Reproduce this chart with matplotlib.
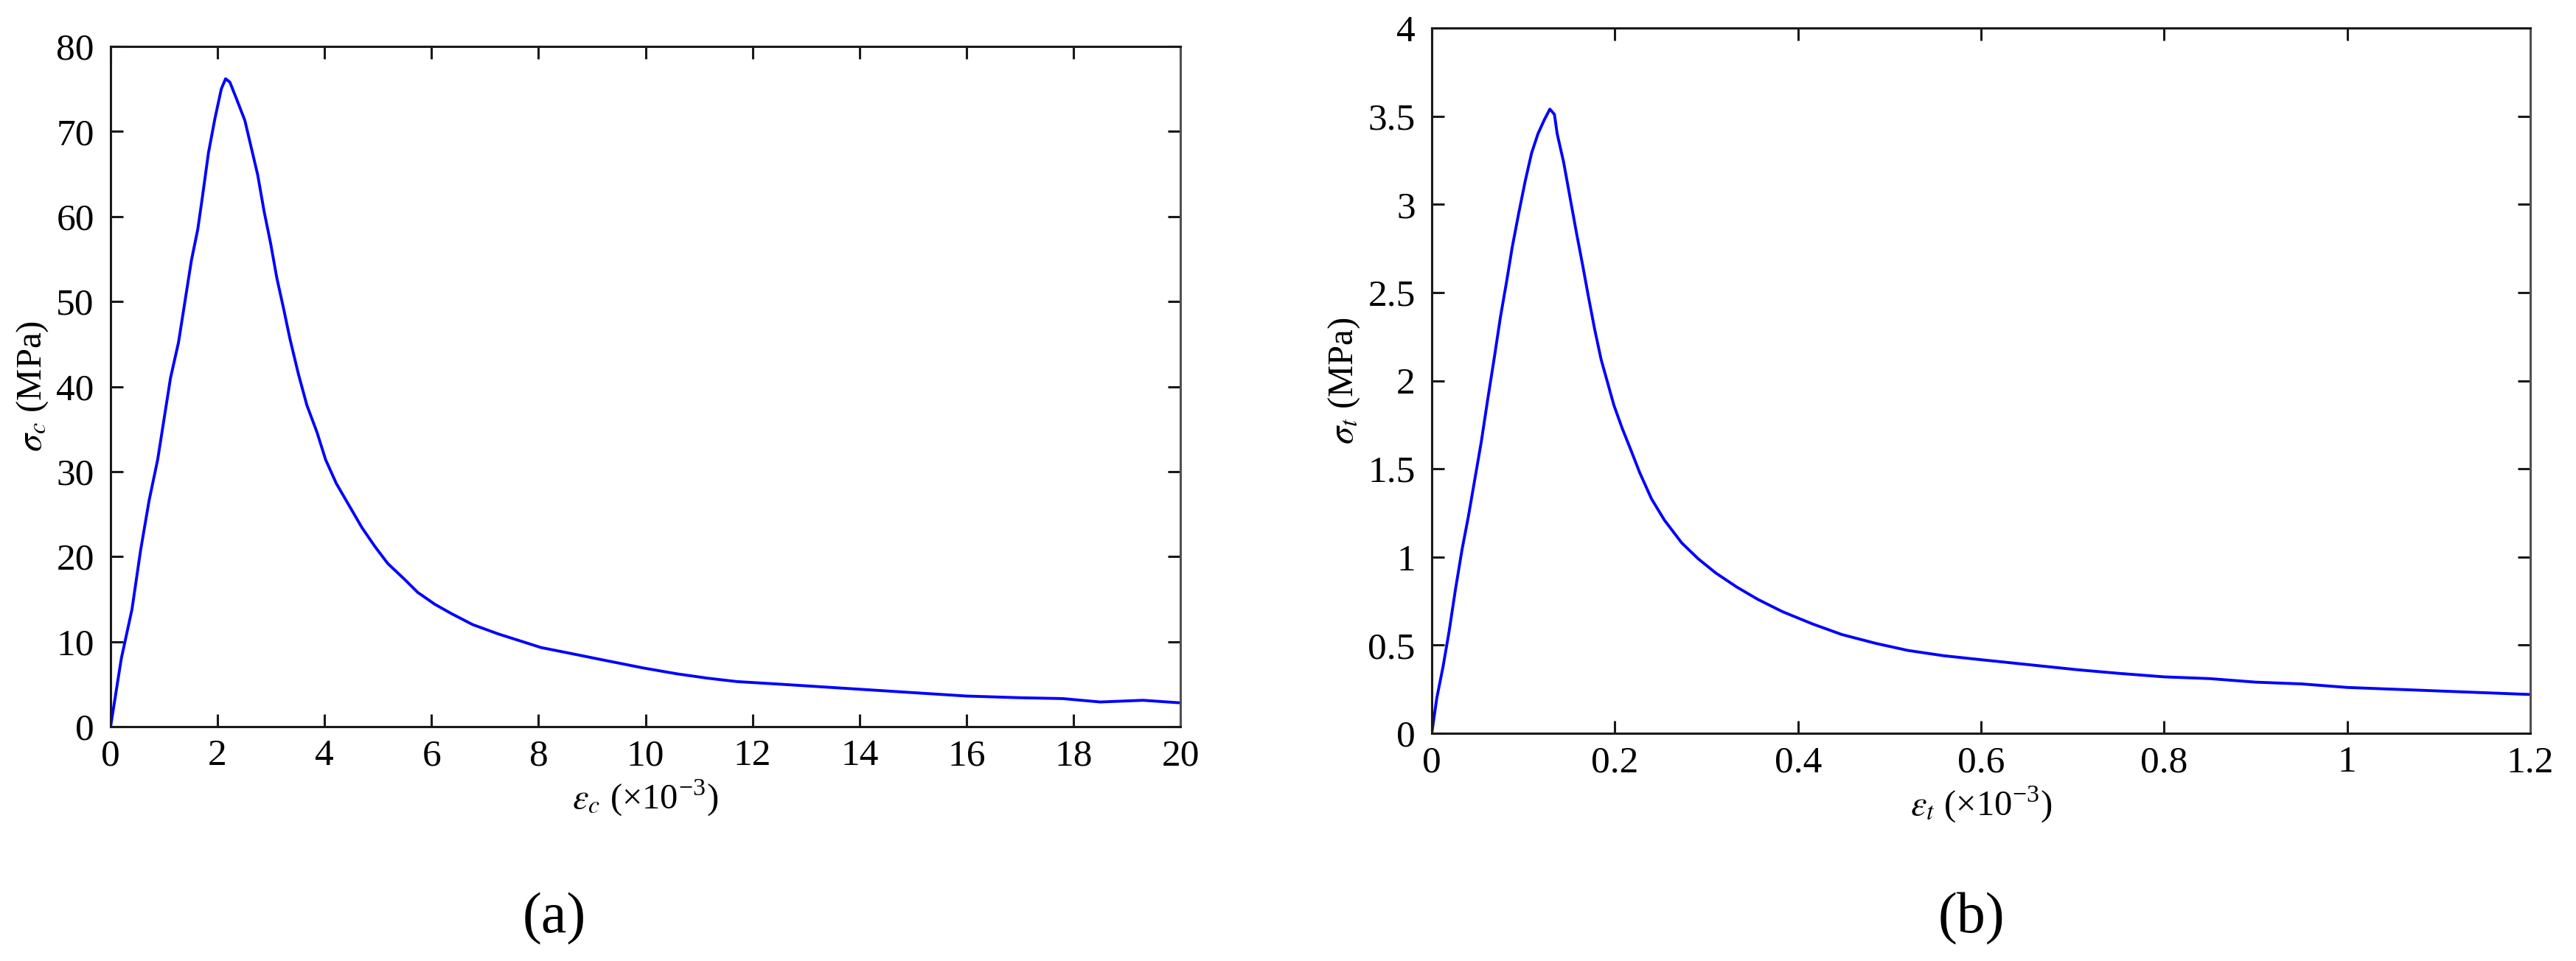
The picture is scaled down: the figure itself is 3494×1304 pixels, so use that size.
import matplotlib
matplotlib.use("Agg")
import matplotlib.pyplot as plt

plt.rcParams['font.family'] = ['Liberation Serif', 'DejaVu Serif']
plt.rcParams['mathtext.fontset'] = 'stix'

# ---- data (a): compression ----
eps_c = [0, 0.2, 0.4, 0.56, 0.72, 0.88, 1.0, 1.12, 1.27, 1.39, 1.51, 1.63, 1.71, 1.83,
         1.95, 2.07, 2.15, 2.23, 2.35, 2.51, 2.63, 2.75, 2.87, 2.99, 3.11, 3.23, 3.35,
         3.51, 3.67, 3.86, 4.02, 4.22, 4.46, 4.70, 4.94, 5.18, 5.50, 5.74, 6.06, 6.37,
         6.77, 7.25, 7.65, 8.05, 8.61, 9.16, 9.56, 9.96, 10.6, 11.16, 11.71, 12.5, 13.0,
         14.0, 15.0, 16.0, 17.0, 17.8, 18.5, 19.3, 20.0]
sig_c = [0, 8.0, 13.8, 20.7, 26.6, 31.4, 36.2, 41.0, 45.2, 50.0, 54.8, 58.5, 62.0, 67.5,
         71.5, 75.0, 76.2, 75.8, 73.9, 71.3, 68.1, 64.9, 60.6, 56.9, 52.7, 49.3, 45.7,
         41.5, 37.8, 34.6, 31.4, 28.6, 26.0, 23.4, 21.2, 19.2, 17.3, 15.8, 14.4, 13.3,
         12.0, 10.9, 10.1, 9.3, 8.6, 7.9, 7.4, 6.9, 6.2, 5.7, 5.3, 5.0, 4.8,
         4.4, 4.0, 3.6, 3.4, 3.3, 2.9, 3.1, 2.8]

# ---- data (b): tension ----
eps_t = [0, 0.0055, 0.0124, 0.019, 0.026, 0.033, 0.040, 0.047, 0.054, 0.061, 0.068, 0.075,
         0.082, 0.088, 0.095, 0.102, 0.109, 0.116, 0.123, 0.129, 0.134, 0.137, 0.144, 0.151,
         0.158, 0.165, 0.171, 0.178, 0.185, 0.192, 0.199, 0.208, 0.218, 0.227, 0.240, 0.254,
         0.273, 0.291, 0.310, 0.333, 0.356, 0.383, 0.416, 0.448, 0.485, 0.520, 0.559, 0.595,
         0.632, 0.669, 0.706, 0.75, 0.8, 0.85, 0.9, 0.95, 1.0, 1.05, 1.1, 1.15, 1.2]
sig_t = [0, 0.20, 0.38, 0.58, 0.82, 1.04, 1.23, 1.44, 1.65, 1.89, 2.12, 2.36,
         2.57, 2.76, 2.95, 3.13, 3.29, 3.40, 3.48, 3.54, 3.51, 3.40, 3.24, 3.04,
         2.84, 2.65, 2.48, 2.29, 2.12, 1.99, 1.86, 1.73, 1.60, 1.48, 1.33, 1.21,
         1.08, 0.99, 0.91, 0.83, 0.76, 0.69, 0.62, 0.56, 0.51, 0.47, 0.44, 0.42,
         0.40, 0.38, 0.36, 0.34, 0.32, 0.31, 0.29, 0.28, 0.26, 0.25, 0.24, 0.23, 0.22]

xticks_a = [0, 2, 4, 6, 8, 10, 12, 14, 16, 18, 20]
yticks_a = [0, 10, 20, 30, 40, 50, 60, 70, 80]
xticks_b = [0, 0.2, 0.4, 0.6, 0.8, 1.0, 1.2]
xticklabels_b = ['0', '0.2', '0.4', '0.6', '0.8', '1', '1.2']
yticks_b = [0, 0.5, 1, 1.5, 2, 2.5, 3, 3.5, 4]
yticklabels_b = ['0', '0.5', '1', '1.5', '2', '2.5', '3', '3.5', '4']

W, H = 3494, 1304
fig = plt.figure(figsize=(W / 100, H / 100), dpi=100)

ax1 = fig.add_axes([150 / W, 1 - 986 / H, 1451 / W, 923 / H])
ax2 = fig.add_axes([1942 / W, 1 - 995 / H, 1490 / W, 957 / H])

TICK_FS = 37
LINE_C = '#0000FF'


def style(ax):
    for side in ['left', 'bottom', 'top']:
        ax.spines[side].set_color('#1a1a1a')
        ax.spines[side].set_linewidth(2.2)
    ax.spines['right'].set_color('#505050')
    ax.spines['right'].set_linewidth(2.2)
    ax.tick_params(direction='in', top=True, right=True, length=12, width=2.2,
                   labelsize=TICK_FS, colors='#1a1a1a', labelcolor='black')
    ax.tick_params(axis='x', pad=12)
    ax.tick_params(axis='y', pad=16)


ax1.plot(eps_c, sig_c, color=LINE_C, lw=2.8)
ax1.set_xlim(0, 20)
ax1.set_ylim(0, 80)
ax1.set_xticks(xticks_a)
ax1.set_xticklabels([str(v) for v in xticks_a])
ax1.set_yticks(yticks_a)
ax1.set_yticklabels([str(v) for v in yticks_a])
style(ax1)
ax1.set_xlabel(r'$\varepsilon_c$ (×10$^{\mathregular{-3}}$)', fontsize=35, labelpad=4)
ax1.set_ylabel(r'$\sigma_c$ (MPa)', fontsize=35, labelpad=6)

ax2.plot(eps_t, sig_t, color=LINE_C, lw=2.8)
ax2.set_xlim(0, 1.2)
ax2.set_ylim(0, 4)
ax2.set_xticks(xticks_b)
ax2.set_xticklabels(xticklabels_b)
ax2.set_yticks(yticks_b)
ax2.set_yticklabels(yticklabels_b)
style(ax2)
ax2.set_xlabel(r'$\varepsilon_t$ (×10$^{\mathregular{-3}}$)', fontsize=35, labelpad=4)
ax2.set_ylabel(r'$\sigma_t$ (MPa)', fontsize=35, labelpad=6)

fig.text(752 / W, 1 - 1247 / H, '(a)', fontsize=56, ha='center', va='center')
fig.text(2674 / W, 1 - 1247 / H, '(b)', fontsize=56, ha='center', va='center')

fig.savefig('out.png', dpi=100, facecolor='white')
